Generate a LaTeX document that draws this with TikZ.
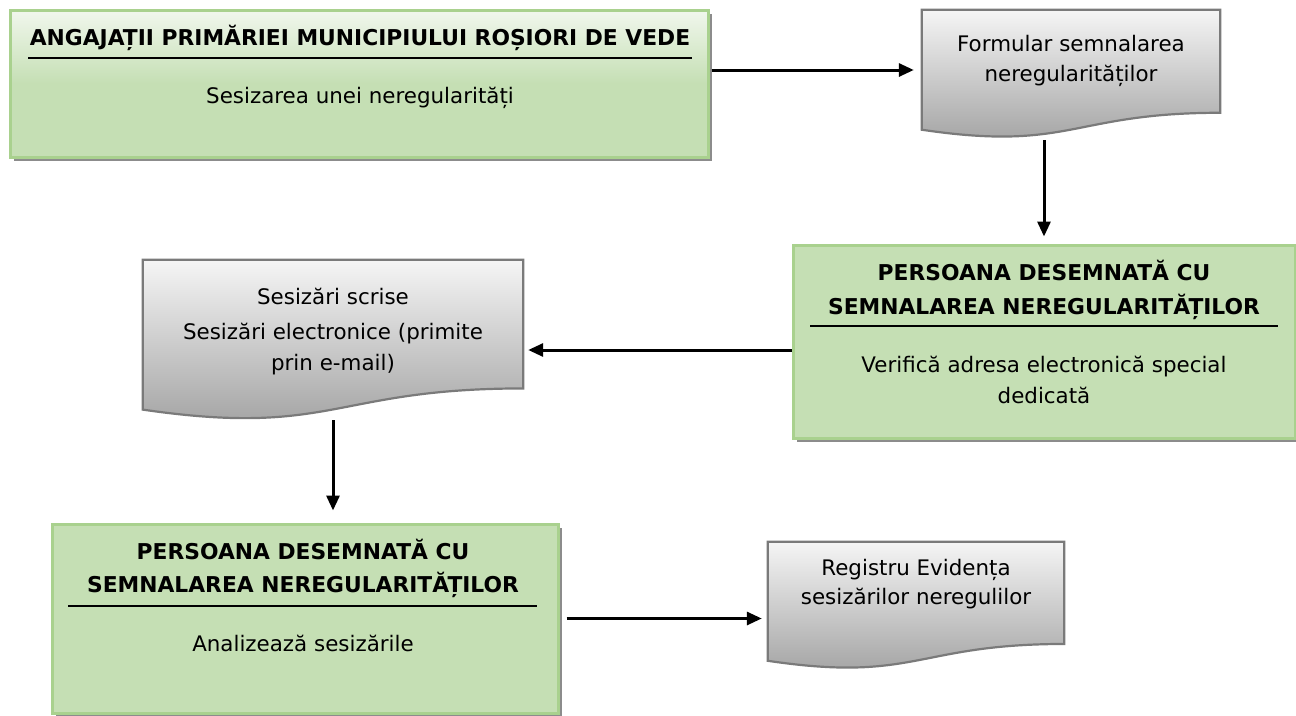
\documentclass[tikz,border=0pt]{standalone}
\usepackage{fontspec}
\setmainfont{DejaVu Sans}
\usetikzlibrary{calc,shadows,arrows.meta}
\definecolor{gfill}{HTML}{C5DFB4}
\definecolor{gtop}{HTML}{F1F7ED}
\definecolor{gborder}{HTML}{A9D18E}
\definecolor{dtop}{HTML}{F5F5F5}
\definecolor{dbot}{HTML}{9E9E9E}
\definecolor{dborder}{HTML}{7A7A7A}
\newcommand\docshape[1]{%
  \fill[black,opacity=0.3,xshift=3pt,yshift=-3pt] (#1.north west) -- (#1.north east) -- ($(#1.north east)!0.802!(#1.south east)$)
    .. controls ($(#1.north)!0.802!(#1.south)$) and ($(#1.north)!1.107!(#1.south)$) .. ($(#1.north west)!0.934!(#1.south west)$) -- cycle;
  \draw[docpath] (#1.north west) -- (#1.north east) -- ($(#1.north east)!0.802!(#1.south east)$)
    .. controls ($(#1.north)!0.802!(#1.south)$) and ($(#1.north)!1.107!(#1.south)$) .. ($(#1.north west)!0.934!(#1.south west)$) -- cycle;}
\begin{document}
\begin{tikzpicture}[x=1pt,y=-1pt,
  gbox/.style={rectangle,inner sep=0pt,draw=gborder,line width=3pt,fill=gfill,
    drop shadow={shadow xshift=4pt,shadow yshift=-4pt,opacity=0.45,fill=black}},
  docbox/.style={rectangle,inner sep=0pt,draw=none},
  docpath/.style={draw=dborder,line width=2.2pt,top color=dtop,bottom color=dbot},
  ttl/.style={font=\fontsize{21.8}{34}\selectfont\bfseries,align=center,inner sep=0pt},
  txt/.style={font=\fontsize{21.4}{31}\selectfont,align=center,inner sep=0pt},
  uline/.style={line width=2.5pt,black},
  arr/.style={line width=3pt,-{Triangle[length=15pt,width=13pt]}}]
\useasboundingbox (0,0) rectangle (1296,715);
\fill[white] (0,0) rectangle (1296,715);

% green boxes
\node[gbox,minimum width=698pt,minimum height=147pt,top color=gtop,bottom color=gfill,middle color=gfill] (b1) at (359,83.5) {};
\node[gbox,minimum width=502pt,minimum height=193pt] (b3) at (1044,341.5) {};
\node[gbox,minimum width=506pt,minimum height=189pt] (b5) at (305,618.5) {};

% document boxes
\node[docbox,minimum width=298pt,minimum height=128pt] (b2) at (1071,74) {};
\node[docbox,minimum width=380pt,minimum height=160pt] (b4) at (333,340) {};
\node[docbox,minimum width=296pt,minimum height=127pt] (b6) at (916,605.5) {};
\docshape{b2}
\docshape{b4}
\docshape{b6}

% box 1 text
\node[ttl] (t1a) at (360,38) {ANGAJAȚII PRIMĂRIEI MUNICIPIULUI ROȘIORI DE VEDE};
\draw[uline] (28,58) -- (692,58);
\node[txt] (t1b) at (360,98) {Sesizarea unei neregularități};

% box 2 text
\node[txt,font=\fontsize{21.4}{30}\selectfont] (t2) at (1071,61) {Formular semnalarea\\neregularităților};

% box 3 text
\node[ttl] (t3a) at (1044,290) {PERSOANA DESEMNATĂ CU\\SEMNALAREA NEREGULARITĂȚILOR};
\draw[uline] (810,326) -- (1278,326);
\node[txt] (t3b) at (1044,379.5) {Verifică adresa electronică special\\dedicată};

% box 4 text
\node[txt] (t4a) at (333,296) {Sesizări scrise};
\node[txt] (t4b) at (333,349.5) {Sesizări electronice (primite\\prin e-mail)};

% box 5 text
\node[ttl,font=\fontsize{21.8}{33}\selectfont\bfseries] (t5a) at (303,568.5) {PERSOANA DESEMNATĂ CU\\SEMNALAREA NEREGULARITĂȚILOR};
\draw[uline] (68,606) -- (537,606);
\node[txt] (t5b) at (303,643) {Analizează sesizările};

% box 6 text
\node[txt,font=\fontsize{21.4}{29}\selectfont] (t6) at (916,584.5) {Registru Evidența\\sesizărilor neregulilor};

% arrows
\draw[arr,shorten <=2pt,shorten >=8pt] ([yshift=13.5pt]b1.east) -- ([yshift=13.5pt]b1.east -| b2.west);
\draw[arr,shorten <=2pt,shorten >=7pt] (b3.north |- b2.south) -- (b3.north);
\draw[arr,shorten >=5pt] ([yshift=-8.5pt]b3.west) -- ([yshift=-8.5pt]b3.west -| b4.east);
\draw[arr,shorten >=12pt] (b4.south) -- (b4.south |- b5.north);
\draw[arr,shorten <=7pt,shorten >=6pt] (b5.east) -- (b5.east -| b6.west);
\end{tikzpicture}
\end{document}
